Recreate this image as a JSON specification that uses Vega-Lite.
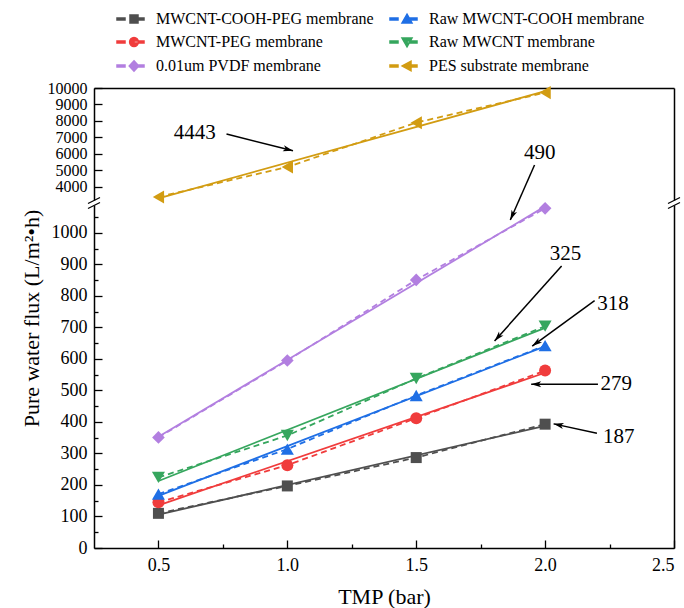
{
  "$schema": "https://vega.github.io/schema/vega-lite/v6.json",
  "width": 580,
  "height": 460,
  "autosize": {"type": "none"},
  "padding": {"left": 94, "top": 88, "right": 10, "bottom": 60},
  "config": {
    "view": {"stroke": null},
    "font": "Liberation Serif",
    "axis": {"labelFont": "Liberation Serif", "titleFont": "Liberation Serif", "labelColor": "#000", "titleColor": "#000", "domainColor": "#000", "tickColor": "#000", "domainWidth": 1.5, "tickWidth": 1.3, "grid": false, "labelFontSize": 18, "titleFontSize": 22, "titleFontWeight": "normal", "labelOverlap": false},
    "legend": {"labelFont": "Liberation Serif", "labelFontSize": 16, "labelColor": "#000"}
  },
  "datasets": {
    "flux": [
      {"series": "MWCNT-COOH-PEG membrane", "tmp": 0.5, "flux": 110},
      {"series": "MWCNT-COOH-PEG membrane", "tmp": 1.0, "flux": 197},
      {"series": "MWCNT-COOH-PEG membrane", "tmp": 1.5, "flux": 287},
      {"series": "MWCNT-COOH-PEG membrane", "tmp": 2.0, "flux": 393},
      {"series": "MWCNT-PEG membrane", "tmp": 0.5, "flux": 145},
      {"series": "MWCNT-PEG membrane", "tmp": 1.0, "flux": 263},
      {"series": "MWCNT-PEG membrane", "tmp": 1.5, "flux": 412},
      {"series": "MWCNT-PEG membrane", "tmp": 2.0, "flux": 563},
      {"series": "Raw MWCNT-COOH membrane", "tmp": 0.5, "flux": 171},
      {"series": "Raw MWCNT-COOH membrane", "tmp": 1.0, "flux": 314},
      {"series": "Raw MWCNT-COOH membrane", "tmp": 1.5, "flux": 484},
      {"series": "Raw MWCNT-COOH membrane", "tmp": 2.0, "flux": 642},
      {"series": "Raw MWCNT membrane", "tmp": 0.5, "flux": 224},
      {"series": "Raw MWCNT membrane", "tmp": 1.0, "flux": 357},
      {"series": "Raw MWCNT membrane", "tmp": 1.5, "flux": 538},
      {"series": "Raw MWCNT membrane", "tmp": 2.0, "flux": 704},
      {"series": "0.01um PVDF membrane", "tmp": 0.5, "flux": 351},
      {"series": "0.01um PVDF membrane", "tmp": 1.0, "flux": 595},
      {"series": "0.01um PVDF membrane", "tmp": 1.5, "flux": 851},
      {"series": "0.01um PVDF membrane", "tmp": 2.0, "flux": 1078},
      {"series": "PES substrate membrane", "tmp": 0.5, "flux": 3400},
      {"series": "PES substrate membrane", "tmp": 1.0, "flux": 5210},
      {"series": "PES substrate membrane", "tmp": 1.5, "flux": 7900},
      {"series": "PES substrate membrane", "tmp": 2.0, "flux": 9720}
    ],
    "notes": [
      {"label": "4443", "tmp": 0.641, "flux": 7255},
      {"label": "490", "tmp": 1.979, "flux": 6042},
      {"label": "325", "tmp": 2.079, "flux": 933},
      {"label": "318", "tmp": 2.263, "flux": 775},
      {"label": "279", "tmp": 2.276, "flux": 520},
      {"label": "187", "tmp": 2.286, "flux": 351}
    ],
    "arrows": [
      {"tmp": 0.764, "flux": 7212, "tmp2": 1.022, "flux2": 6200, "angle": 104.1},
      {"tmp": 1.959, "flux": 5333, "tmp2": 1.865, "flux2": 1041, "angle": -156.2},
      {"tmp": 2.064, "flux": 895, "tmp2": 1.804, "flux2": 657, "angle": -138.2},
      {"tmp": 2.192, "flux": 785, "tmp2": 1.950, "flux2": 641, "angle": -126.0},
      {"tmp": 2.205, "flux": 520, "tmp2": 1.946, "flux2": 520, "angle": -90},
      {"tmp": 2.201, "flux": 364, "tmp2": 2.033, "flux2": 394, "angle": -77.9}
    ],
    "breaks": [
      {"tmp": 0.25, "flux": 2000},
      {"tmp": 2.5, "flux": 2000}
    ]
  },
  "encoding": {
    "x": {"field": "tmp", "type": "quantitative", "scale": {"domain": [0.25, 2.5], "nice": false, "zero": false}, "axis": null},
    "y": {"field": "flux", "type": "quantitative", "scale": {"domain": [0, 1095, 3030, 10000], "range": [460, 115, 115, 0], "nice": false, "zero": false}, "axis": null}
  },
  "layer": [
    {
      "data": {"name": "flux"},
      "transform": [{"filter": "false"}],
      "mark": {"type": "point", "filled": true, "opacity": 1},
      "encoding": {
        "color": {"field": "series", "type": "nominal", "scale": {"domain": ["MWCNT-COOH-PEG membrane", "Raw MWCNT-COOH membrane", "MWCNT-PEG membrane", "Raw MWCNT membrane", "0.01um PVDF membrane", "PES substrate membrane"], "range": ["#4f4f4f", "#1f6fe5", "#f03c3c", "#36a65e", "#b27fe0", "#d29c12"]}, "legend": {"title": null, "orient": "none", "direction": "horizontal", "legendX": 32, "legendY": -77, "columns": 2, "columnPadding": 13, "rowPadding": 7, "symbolSize": 64, "labelOffset": 14, "padding": 0, "labelLimit": 400, "labelFont": "Liberation Serif", "labelFontSize": 16, "labelColor": "#000"}},
        "shape": {"field": "series", "type": "nominal", "scale": {"domain": ["MWCNT-COOH-PEG membrane", "Raw MWCNT-COOH membrane", "MWCNT-PEG membrane", "Raw MWCNT membrane", "0.01um PVDF membrane", "PES substrate membrane"], "range": [
          "M-4.25,-0.25H-2.25V0.25H-4.25Z M0,-0.25H2.5V0.25H0Z M-1,-1H1V1H-1Z",
          "M-4.25,-0.25H-2.25V0.25H-4.25Z M0,-0.25H2.5V0.25H0Z M0,-1.2L1.25,1L-1.25,1Z",
          "M-4.25,-0.25H-2.25V0.25H-4.25Z M0,-0.25H2.5V0.25H0Z M-1.1,0A1.1,1.1 0 1,0 1.1,0A1.1,1.1 0 1,0 -1.1,0Z",
          "M-4.25,-0.25H-2.25V0.25H-4.25Z M0,-0.25H2.5V0.25H0Z M0,1.2L1.25,-1L-1.25,-1Z",
          "M-4.25,-0.25H-2.25V0.25H-4.25Z M0,-0.25H2.5V0.25H0Z M0,-1.3L1.2,0L0,1.3L-1.2,0Z",
          "M-4.25,-0.25H-2.25V0.25H-4.25Z M0,-0.25H2.5V0.25H0Z M-1.2,0L1,-1.2L1,1.2Z"
        ]}, "legend": {"title": null, "orient": "none", "direction": "horizontal", "legendX": 32, "legendY": -77, "columns": 2, "columnPadding": 13, "rowPadding": 7, "symbolSize": 64, "labelOffset": 14, "padding": 0, "labelLimit": 400, "labelFont": "Liberation Serif", "labelFontSize": 16, "labelColor": "#000"}}
      }
    },
    {
      "data": {"name": "flux"},
      "mark": {"type": "line", "strokeWidth": 1.8, "strokeDash": [6, 4]},
      "encoding": {
        "color": {"field": "series", "type": "nominal", "legend": null},
        "x": {"field": "tmp", "type": "quantitative", "scale": {"domain": [0.25, 2.5], "nice": false, "zero": false}, "axis": {"orient": "bottom", "values": [0.75, 1.25, 1.75, 2.25], "labels": false, "tickSize": -4, "domain": false, "title": null}},
        "y": {"field": "flux", "type": "quantitative", "scale": {"domain": [0, 1095, 3030, 10000], "range": [460, 115, 115, 0], "nice": false, "zero": false}, "axis": {"orient": "left", "values": [50, 150, 250, 350, 450, 550, 650, 750, 850, 950, 1050], "labels": false, "tickSize": -4, "domain": false, "title": null}}
      }
    },
    {
      "data": {"name": "flux"},
      "transform": [{"regression": "flux", "on": "tmp", "groupby": ["series"]}],
      "mark": {"type": "line", "strokeWidth": 1.8},
      "encoding": {
        "color": {"field": "series", "type": "nominal", "legend": null},
        "x": {"field": "tmp", "type": "quantitative", "scale": {"domain": [0.25, 2.5], "nice": false, "zero": false}, "axis": {"orient": "bottom", "values": [0.5, 1.0, 1.5, 2.0, 2.5], "format": ".1f", "tickSize": -8, "labelPadding": 16, "labelFont": "Liberation Serif", "labelFontSize": 18, "labelOverlap": false, "title": "TMP (bar)", "titleFont": "Liberation Serif", "titleFontSize": 22, "titleFontWeight": "normal", "titlePadding": 12}},
        "y": {"field": "flux", "type": "quantitative", "scale": {"domain": [0, 1095, 3030, 10000], "range": [460, 115, 115, 0], "nice": false, "zero": false}, "axis": {"orient": "left", "values": [0, 100, 200, 300, 400, 500, 600, 700, 800, 900, 1000, 4000, 5000, 6000, 7000, 8000, 9000, 10000], "format": "d", "tickSize": -8, "labelPadding": 15, "labelFont": "Liberation Serif", "labelFontSize": {"condition": {"test": "datum.value >= 4000", "value": 16}, "value": 18}, "labelOverlap": false, "title": "Pure water flux (L/m²•h)", "titleFont": "Liberation Serif", "titleFontSize": 22, "titleFontWeight": "normal", "titlePadding": 4}}
      }
    },
    {
      "data": {"name": "flux"},
      "transform": [{"filter": "datum.series === 'MWCNT-COOH-PEG membrane'"}],
      "mark": {"type": "point", "filled": true, "shape": "square", "size": 121, "opacity": 1},
      "encoding": {
        "color": {"field": "series", "type": "nominal", "legend": null},
        "x": {"field": "tmp", "type": "quantitative", "scale": {"domain": [0.25, 2.5], "nice": false, "zero": false}, "axis": {"orient": "top", "ticks": false, "labels": false, "title": null}},
        "y": {"field": "flux", "type": "quantitative", "scale": {"domain": [0, 1095, 3030, 10000], "range": [460, 115, 115, 0], "nice": false, "zero": false}, "axis": {"orient": "right", "ticks": false, "labels": false, "title": null}}
      }
    },
    {
      "data": {"name": "flux"},
      "transform": [{"filter": "datum.series === 'MWCNT-PEG membrane'"}],
      "mark": {"type": "point", "filled": true, "shape": "circle", "size": 144, "opacity": 1},
      "encoding": {"color": {"field": "series", "type": "nominal", "legend": null}}
    },
    {
      "data": {"name": "flux"},
      "transform": [{"filter": "datum.series === 'Raw MWCNT-COOH membrane'"}],
      "mark": {"type": "point", "filled": true, "shape": "triangle-up", "size": 170, "opacity": 1},
      "encoding": {"color": {"field": "series", "type": "nominal", "legend": null}}
    },
    {
      "data": {"name": "flux"},
      "transform": [{"filter": "datum.series === 'Raw MWCNT membrane'"}],
      "mark": {"type": "point", "filled": true, "shape": "triangle-down", "size": 170, "opacity": 1},
      "encoding": {"color": {"field": "series", "type": "nominal", "legend": null}}
    },
    {
      "data": {"name": "flux"},
      "transform": [{"filter": "datum.series === '0.01um PVDF membrane'"}],
      "mark": {"type": "point", "filled": true, "shape": "diamond", "size": 160, "opacity": 1},
      "encoding": {"color": {"field": "series", "type": "nominal", "legend": null}}
    },
    {
      "data": {"name": "flux"},
      "transform": [{"filter": "datum.series === 'PES substrate membrane'"}],
      "mark": {"type": "point", "filled": true, "shape": "triangle-left", "size": 170, "opacity": 1},
      "encoding": {"color": {"field": "series", "type": "nominal", "legend": null}}
    },
    {
      "data": {"name": "arrows"},
      "mark": {"type": "rule", "strokeWidth": 1.5, "color": "#000"},
      "encoding": {"x2": {"field": "tmp2"}, "y2": {"field": "flux2"}}
    },
    {
      "data": {"name": "arrows"},
      "mark": {"type": "point", "filled": true, "color": "#000", "shape": "M0,0L0.6,2L0,1.5L-0.6,2Z", "size": 100, "opacity": 1},
      "encoding": {
        "x": {"field": "tmp2", "type": "quantitative", "scale": {"domain": [0.25, 2.5], "nice": false, "zero": false}, "axis": null},
        "y": {"field": "flux2", "type": "quantitative", "scale": {"domain": [0, 1095, 3030, 10000], "range": [460, 115, 115, 0], "nice": false, "zero": false}, "axis": null},
        "angle": {"field": "angle", "type": "quantitative", "scale": null}
      }
    },
    {
      "data": {"name": "notes"},
      "mark": {"type": "text", "fontSize": 21, "font": "Liberation Serif", "color": "#000"},
      "encoding": {"text": {"field": "label", "type": "nominal"}}
    },
    {
      "data": {"name": "breaks"},
      "mark": {"type": "point", "filled": true, "color": "#ffffff", "shape": "M-3,-2.5H3V2.5H-3Z", "size": 4, "opacity": 1, "strokeWidth": 0},
      "encoding": {}
    },
    {
      "data": {"name": "breaks"},
      "mark": {"type": "point", "filled": false, "color": "#000", "shape": "M-6,0.5L6,-5.5M-6,5.5L6,-0.5", "size": 4, "opacity": 1, "strokeWidth": 1.3},
      "encoding": {}
    }
  ],
  "resolve": {"axis": {"x": "independent", "y": "independent"}}
}
